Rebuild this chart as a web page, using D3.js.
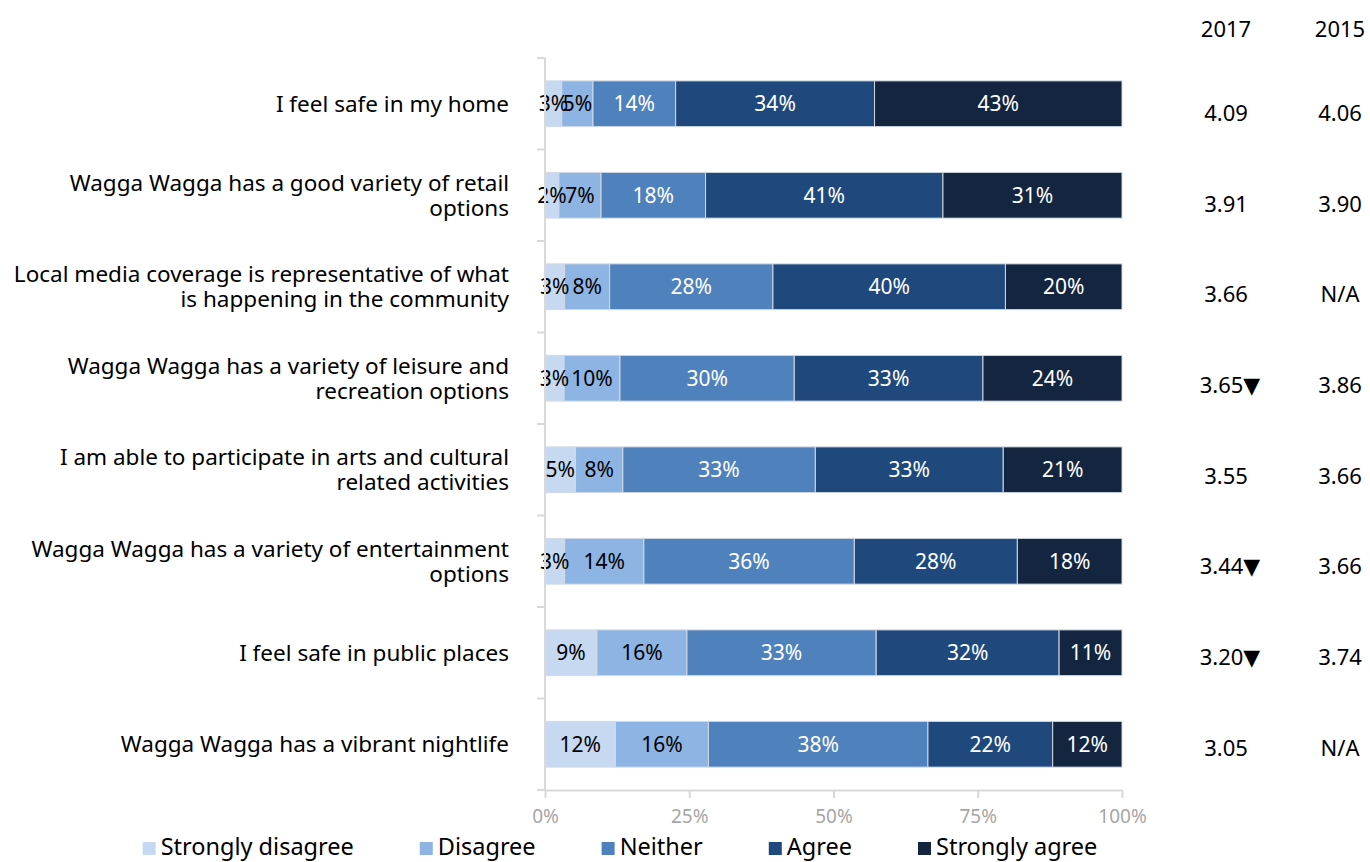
<!DOCTYPE html>
<html>
<head>
<meta charset="utf-8">
<script src="https://cdn.jsdelivr.net/npm/d3@7"></script>
<style>
  html, body { margin: 0; padding: 0; background: #ffffff; }
  svg { display: block; font-family: "Noto Sans", "DejaVu Sans", sans-serif; }
</style>
</head>
<body>
<svg id="chart" width="1370" height="862"></svg>
<script>
// Survey statements (line breaks mark how each label wraps)
const categories = [
  "I feel safe in my home",
  "Wagga Wagga has a good variety of retail\noptions",
  "Local media coverage is representative of what\nis happening in the community",
  "Wagga Wagga has a variety of leisure and\nrecreation options",
  "I am able to participate in arts and cultural\nrelated activities",
  "Wagga Wagga has a variety of entertainment\noptions",
  "I feel safe in public places",
  "Wagga Wagga has a vibrant nightlife"
];

// Response categories, in stacking order
const responses = ["Strongly disagree", "Disagree", "Neither", "Agree", "Strongly agree"];

// Share of respondents (%) per statement, one array per response
const stronglyDisagree = [2.9, 2.4, 3.4, 3.3, 5.3, 3.4, 9.0, 12.2];
const disagree         = [5.4, 7.3, 7.8, 9.7, 8.2, 13.7, 15.6, 16.1];
const neither          = [14.3, 18.1, 28.3, 30.2, 33.4, 36.4, 32.8, 38.0];
const agree            = [34.4, 41.1, 40.3, 32.7, 32.6, 28.2, 31.7, 21.6];
const stronglyAgree    = [42.8, 31.0, 20.2, 24.1, 20.6, 18.1, 10.9, 12.0];

// Mean scores by survey year (null = not asked that year)
const yearLabels = ["2017", "2015"];
const mean2017 = [4.09, 3.91, 3.66, 3.65, 3.55, 3.44, 3.20, 3.05];
const mean2015 = [4.06, 3.90, null, 3.86, 3.66, 3.66, 3.74, null];
const sigDecline2017 = [false, false, false, true, false, true, true, false];

// Axis ticks
const xTicks = [0, 0.25, 0.5, 0.75, 1];

const colors = ["#c6d9f1", "#8eb4e3", "#4f81bd", "#1f497d", "#13253f"];
const labelColors = ["#000000", "#000000", "#ffffff", "#ffffff", "#ffffff"];

const seriesValues = [stronglyDisagree, disagree, neither, agree, stronglyAgree];
const rows = categories.map((c, i) => {
  const r = { category: c };
  responses.forEach((k, j) => { r[k] = seriesValues[j][i]; });
  return r;
});

const svg = d3.select("#chart");
const plot = { left: 545, right: 1122, top: 58, bottom: 790 };

const x = d3.scaleLinear().domain([0, 1]).range([plot.left, plot.right]);
const y = d3.scaleBand()
  .domain(categories)
  .range([plot.top, plot.bottom])
  .paddingInner(0.5)
  .paddingOuter(0.25);

const stack = d3.stack().keys(responses).offset(d3.stackOffsetExpand);
const layers = stack(rows);
const segments = layers.flatMap(layer => layer.map(p => ({ key: layer.key, x0: p[0], x1: p[1], row: p.data })));

const color = d3.scaleOrdinal().domain(responses).range(colors);
const textColor = d3.scaleOrdinal().domain(responses).range(labelColors);
const pct = d3.format(".0f");

// Stacked bars
svg.append("g").selectAll("rect")
  .data(segments)
  .join("rect")
  .attr("x", d => x(d.x0))
  .attr("y", d => y(d.row.category))
  .attr("width", d => x(d.x1) - x(d.x0))
  .attr("height", y.bandwidth())
  .attr("fill", d => color(d.key))
  .attr("stroke", "#d3dae4")
  .attr("stroke-width", 1);

// Segment value labels, drawn above every bar
svg.append("g").selectAll("text")
  .data(segments)
  .join("text")
  .attr("x", d => (x(d.x0) + x(d.x1)) / 2)
  .attr("y", d => y(d.row.category) + y.bandwidth() / 2)
  .attr("dy", "0.36em")
  .attr("text-anchor", "middle")
  .attr("font-size", 21)
  .attr("fill", d => textColor(d.key))
  .text(d => pct(d.row[d.key]) + "%");

// Vertical category axis: line with ticks between bands
const step = y.step();
const boundaries = d3.range(categories.length + 1).map(i =>
  (i === 0 ? y(categories[0]) - y.paddingInner() * step / 2
           : y(categories[i - 1]) + y.bandwidth() + y.paddingInner() * step / 2));
const yAxisG = svg.append("g");
yAxisG.append("line")
  .attr("x1", plot.left).attr("x2", plot.left)
  .attr("y1", boundaries[0]).attr("y2", boundaries[boundaries.length - 1])
  .attr("stroke", "#d9d9d9").attr("stroke-width", 2);
yAxisG.selectAll("line.tick")
  .data(boundaries)
  .join("line")
  .attr("class", "tick")
  .attr("x1", plot.left - 8).attr("x2", plot.left)
  .attr("y1", d => d).attr("y2", d => d)
  .attr("stroke", "#d9d9d9").attr("stroke-width", 2);

// Category labels
const catLabels = svg.append("g").selectAll("text")
  .data(categories)
  .join("text")
  .attr("text-anchor", "end")
  .attr("font-size", 22.5)
  .attr("fill", "#000000");
catLabels.each(function (c) {
  const lines = c.split("\n");
  const lh = 25;
  const cy = y(c) + y.bandwidth() / 2;
  const t = d3.select(this);
  lines.forEach((ln, i) => {
    t.append("tspan")
      .attr("x", 509)
      .attr("y", cy + (i - (lines.length - 1) / 2) * lh)
      .attr("dy", "0.36em")
      .text(ln);
  });
});

// Percentage axis
const xAxis = d3.axisBottom(x)
  .tickValues(xTicks)
  .tickFormat(d3.format(".0%"))
  .tickSize(8)
  .tickPadding(12)
  .tickSizeOuter(0);
const xAxisG = svg.append("g")
  .attr("transform", `translate(0,${plot.bottom})`)
  .call(xAxis);
xAxisG.select(".domain").attr("stroke", "#d9d9d9").attr("stroke-width", 2);
xAxisG.selectAll(".tick line").attr("stroke", "#d9d9d9").attr("stroke-width", 2);
xAxisG.selectAll(".tick text")
  .attr("font-size", 19)
  .attr("font-family", "\"Noto Sans\", sans-serif")
  .attr("fill", "#a6a6a6");

// Mean score table on the right
const colX = d3.scaleOrdinal().domain(yearLabels).range([1226, 1340]);
const tableY = d3.scalePoint().domain(categories).range([113, 748]);
const table = svg.append("g").attr("font-size", 22).attr("fill", "#000000").attr("text-anchor", "middle");
table.selectAll("text.head")
  .data(yearLabels)
  .join("text")
  .attr("class", "head")
  .attr("x", d => colX(d))
  .attr("y", 29)
  .attr("dy", "0.36em")
  .text(d => d);
table.selectAll("text.v17")
  .data(categories)
  .join("text")
  .attr("class", "v17")
  .attr("x", (d, i) => colX("2017") + (sigDecline2017[i] ? 4 : 0))
  .attr("y", d => tableY(d))
  .attr("dy", "0.36em")
  .text((d, i) => d3.format(".2f")(mean2017[i]) + (sigDecline2017[i] ? "\u25BC" : ""));
table.selectAll("text.v15")
  .data(categories)
  .join("text")
  .attr("class", "v15")
  .attr("x", colX("2015"))
  .attr("y", d => tableY(d))
  .attr("dy", "0.36em")
  .text((d, i) => mean2015[i] == null ? "N/A" : d3.format(".2f")(mean2015[i]));

// Legend, centred under the plot
const legend = svg.append("g").attr("font-size", 23.5).attr("fill", "#000000");
const items = legend.selectAll("g")
  .data(responses)
  .join("g");
items.append("rect")
  .attr("width", 13).attr("height", 13)
  .attr("y", 842)
  .attr("fill", d => color(d));
items.append("text")
  .attr("x", 18)
  .attr("y", 855)
  .text(d => d);
let cursor = 0;
const offsets = [];
items.each(function () {
  const w = d3.select(this).select("text").node().getComputedTextLength();
  offsets.push(cursor);
  cursor += 18 + w + 66;
});
const total = cursor - 66;
const start = 620 - total / 2;
items.attr("transform", (d, i) => `translate(${start + offsets[i]},0)`);
</script>
</body>
</html>
